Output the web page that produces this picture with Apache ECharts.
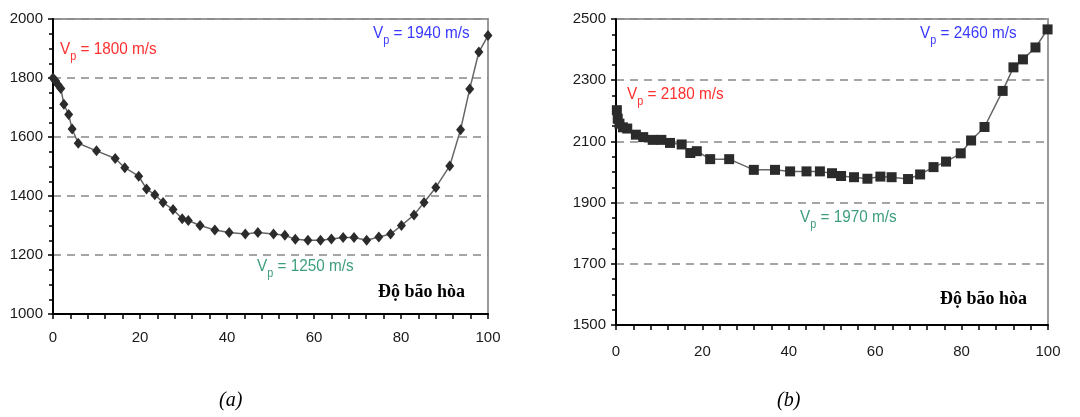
<!DOCTYPE html>
<html>
<head>
<meta charset="utf-8">
<script src="https://cdn.jsdelivr.net/npm/echarts@6/dist/echarts.min.js"></script>
<style>
  html, body { margin: 0; padding: 0; background: #fff; }
  #chart { width: 1080px; height: 417px; }
</style>
</head>
<body>
<div id="chart"></div>
<script>
// saturation (%) and P-wave velocity (m/s)
const satA = [0, 0.6, 1.2, 1.8, 2.5, 3.6, 4.4, 5.8, 10, 14.3, 16.5, 19.7, 21.5, 23.4, 25.3, 27.6, 29.7, 31.1, 33.8, 37.2, 40.5, 44.2, 47.1, 50.7, 53.3, 55.7, 58.6, 61.5, 64, 66.7, 69.2, 72.1, 74.9, 77.6, 80.1, 83, 85.3, 88, 91.2, 93.7, 95.8, 97.9, 100];
const vpA = [1800, 1790, 1776, 1764, 1711, 1676, 1627, 1579, 1553, 1527, 1496, 1467, 1424, 1404, 1378, 1354, 1323, 1317, 1300, 1285, 1276, 1271, 1276, 1271, 1267, 1253, 1250, 1250, 1254, 1259, 1259, 1250, 1261, 1271, 1300, 1336, 1378, 1429, 1502, 1625, 1763, 1888, 1944];

const satB = [0.2, 0.4, 0.8, 1.6, 2.6, 4.6, 6.3, 8.5, 10.5, 12.5, 15.2, 17.2, 18.7, 21.8, 26.2, 31.9, 36.8, 40.3, 44.1, 47.2, 50, 52.1, 55.1, 58.2, 61.2, 63.8, 67.6, 70.4, 73.5, 76.4, 79.8, 82.2, 85.3, 89.5, 92, 94.2, 97.1, 99.9];
const vpB = [2202, 2174, 2158, 2146, 2142, 2122, 2114, 2105, 2105, 2095, 2090, 2062, 2068, 2042, 2042, 2007, 2007, 2002, 2002, 2002, 1996, 1987, 1983, 1978, 1985, 1983, 1977, 1992, 2016, 2034, 2061, 2103, 2147, 2265, 2342, 2368, 2407, 2466];

const chart = echarts.init(document.getElementById('chart'), null, { renderer: 'canvas' });

const labelFont = { color: '#1a1a1a', fontFamily: 'Liberation Sans', fontSize: 15 };

function xAxisFor(gridIndex, margin) {
  return {
    type: 'value', gridIndex: gridIndex, min: 0, max: 100, interval: 20,
    axisLine: { show: true, lineStyle: { color: '#000', width: 2 } },
    axisTick: { show: true, inside: false, length: 5, lineStyle: { color: '#000', width: 1.5 } },
    minorTick: { show: true, splitNumber: 5, length: 5, lineStyle: { color: '#000', width: 1.5 } },
    axisLabel: Object.assign({ margin: margin }, labelFont),
    splitLine: { show: false }
  };
}

function yAxisFor(gridIndex, min, max) {
  return {
    type: 'value', gridIndex: gridIndex, min: min, max: max, interval: 200,
    axisLine: { show: true, lineStyle: { color: '#000', width: 2 } },
    axisTick: { show: true, length: 5, lineStyle: { color: '#000', width: 1.5 } },
    minorTick: { show: true, splitNumber: 4, length: 4, lineStyle: { color: '#000', width: 1.5 } },
    axisLabel: Object.assign({ margin: 10, formatter: function (v) { return String(v); } }, labelFont),
    splitLine: { show: true, lineStyle: { color: '#888', type: [8, 6], width: 1.5 } }
  };
}

function vpText(x, y, value, color) {
  return {
    type: 'text', left: x, top: y, scaleX: 0.9,
    style: {
      text: '{v|V}{s|p}{v| = ' + value + ' m/s}',
      rich: {
        v: { fontFamily: 'Liberation Sans', fontSize: 17, fill: color, verticalAlign: 'top' },
        s: { fontFamily: 'Liberation Sans', fontSize: 12, fill: color, padding: [10, 0, 0, 0] }
      }
    }
  };
}

function boldLabel(x, y) {
  return {
    type: 'text', left: x, top: y,
    style: { text: 'Độ bão hòa', fontFamily: 'Liberation Serif', fontWeight: 'bold', fontSize: 18, fill: '#000' }
  };
}

function caption(x, y, t) {
  return {
    type: 'text', left: x, top: y,
    style: { text: t, fontFamily: 'Liberation Serif', fontStyle: 'italic', fontSize: 20, fill: '#000' }
  };
}

const option = {
  animation: false,
  backgroundColor: '#fff',
  grid: [
    { left: 53, right: 592, top: 19, bottom: 103, show: true, borderColor: '#999', borderWidth: 2, backgroundColor: 'transparent' },
    { left: 616, right: 32, top: 19, bottom: 92, show: true, borderColor: '#999', borderWidth: 2, backgroundColor: 'transparent' }
  ],
  xAxis: [xAxisFor(0, 16), xAxisFor(1, 19)],
  yAxis: [yAxisFor(0, 1000, 2000), yAxisFor(1, 1500, 2500)],
  series: [
    {
      type: 'line', xAxisIndex: 0, yAxisIndex: 0,
      data: satA.map((s, i) => [s, vpA[i]]),
      symbol: 'diamond', symbolSize: [9, 11],
      lineStyle: { color: '#666', width: 1.5 },
      itemStyle: { color: '#2b2b2b' }
    },
    {
      type: 'line', xAxisIndex: 1, yAxisIndex: 1,
      data: satB.map((s, i) => [s, vpB[i]]),
      symbol: 'rect', symbolSize: 10,
      lineStyle: { color: '#666', width: 1.5 },
      itemStyle: { color: '#2b2b2b' }
    }
  ],
  graphic: [
    vpText(60, 41, '1800', '#ff3030'),
    vpText(373, 25, '1940', '#3a3aff'),
    vpText(257, 258, '1250', '#3d9e7c'),
    boldLabel(378, 283),
    vpText(627, 86, '2180', '#ff3030'),
    vpText(920, 25, '2460', '#3a3aff'),
    vpText(800, 209, '1970', '#3d9e7c'),
    boldLabel(940, 290),
    caption(219, 391, '(a)'),
    caption(777, 391, '(b)')
  ]
};

window.addEventListener('resize', function () {
  chart.resize();
});

option && chart.setOption(option);
</script>
</body>
</html>
